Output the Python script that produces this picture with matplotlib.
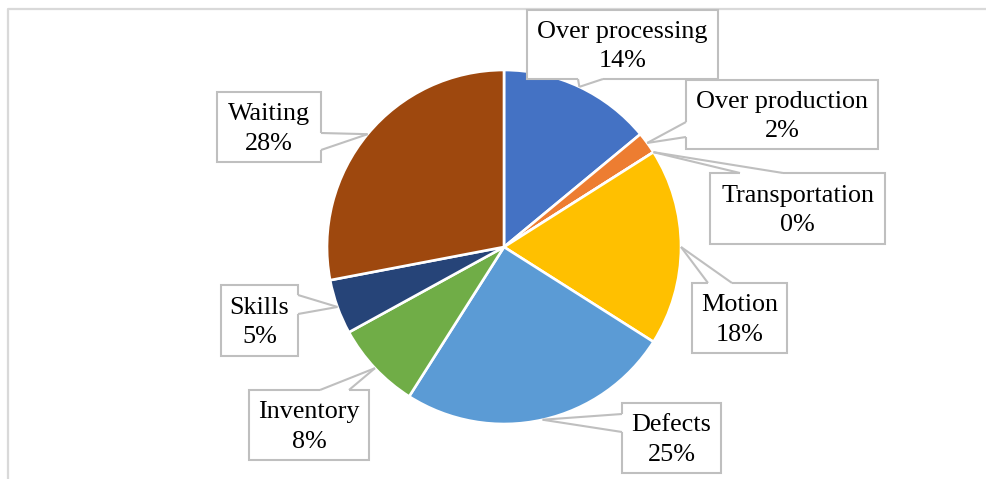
import matplotlib
matplotlib.use("Agg")
import numpy as np
import matplotlib.pyplot as plt
from matplotlib.patches import Rectangle, Polygon

categories = ["Over processing", "Over production", "Transportation", "Motion",
              "Defects", "Inventory", "Skills", "Waiting"]
shares = [14, 2, 0, 18, 25, 8, 5, 28]
colors = ["#4472C4", "#ED7D31", "#A5A5A5", "#FFC000",
          "#5B9BD5", "#70AD47", "#264478", "#9E480E"]

W, H = 987, 479
CX, CY, R = 504, 247, 177   # pie centre and radius, pixel coords (y down)
EDGE = "#BFBFBF"

# label boxes: (left, top, right, bottom), side the pointer joins, pointer base span on that side
callouts = {
    "Over processing": ((527, 10, 718, 79), "bottom", (578, 603)),
    "Over production": ((686, 80, 878, 149), "left", (122, 137)),
    "Transportation": ((710, 173, 885, 244), "top", (740, 783)),
    "Motion": ((692, 283, 787, 353), "top", (708, 732)),
    "Defects": ((622, 403, 721, 473), "left", (414, 432)),
    "Inventory": ((249, 390, 369, 460), "top", (320, 349)),
    "Skills": ((221, 285, 298, 356), "right", (295, 314)),
    "Waiting": ((217, 92, 321, 162), "right", (133, 150)),
}

plt.rcParams['font.family'] = ['Liberation Serif', 'DejaVu Serif']


def to_data(pt):
    return (pt[0], H - pt[1])


def draw_callout(ax, box, side, span, tip, text):
    l, t, r, b = box
    ax.add_patch(Rectangle((l, H - b), r - l, b - t, facecolor="white",
                           edgecolor=EDGE, lw=1.5, zorder=3))
    s0, s1 = span
    if side == "bottom":
        p0, p1, d = (s0, b), (s1, b), (0, -3)
    elif side == "top":
        p0, p1, d = (s0, t), (s1, t), (0, 3)
    elif side == "left":
        p0, p1, d = (l, s0), (l, s1), (3, 0)
    else:
        p0, p1, d = (r, s0), (r, s1), (-3, 0)
    q0 = (p0[0] + d[0], p0[1] + d[1])
    q1 = (p1[0] + d[0], p1[1] + d[1])
    # white wedge opens the box border where the pointer joins
    ax.add_patch(Polygon([to_data(p) for p in (tip, p0, q0, q1, p1)],
                         closed=True, facecolor="white", edgecolor="none", zorder=4))
    for p in (p0, p1):
        a, c = to_data(tip), to_data(p)
        ax.plot([a[0], c[0]], [a[1], c[1]], color=EDGE, lw=1.5, zorder=5,
                solid_capstyle="butt")
    ax.text((l + r) / 2, H - (t + b) / 2 - 2, text, ha="center", va="center",
            multialignment="center", fontsize=18.8, color="black",
            linespacing=1.42, zorder=6)


fig = plt.figure(figsize=(W / 100, H / 100), dpi=100)
ax = fig.add_axes([0, 0, 1, 1])

wedges, _ = ax.pie(shares, colors=colors, startangle=90, counterclock=False,
                   center=(CX, H - CY), radius=R,
                   wedgeprops=dict(edgecolor="white", linewidth=1.9))

for w, name, val in zip(wedges, categories, shares):
    mid = np.deg2rad((w.theta1 + w.theta2) / 2)
    tip = (CX + R * np.cos(mid), CY - R * np.sin(mid))
    box, side, span = callouts[name]
    draw_callout(ax, box, side, span, tip, f"{name}\n{val}%")

# chart area frame (only the top and left edges are inside the image)
ax.plot([8, 8, W], [0, H - 9, H - 9], color="#D9D9D9", lw=1.6, zorder=1)

ax.set_xlim(0, W)
ax.set_ylim(0, H)
ax.set_aspect("equal")
ax.axis("off")

fig.savefig("out.png", dpi=100, facecolor="white")
